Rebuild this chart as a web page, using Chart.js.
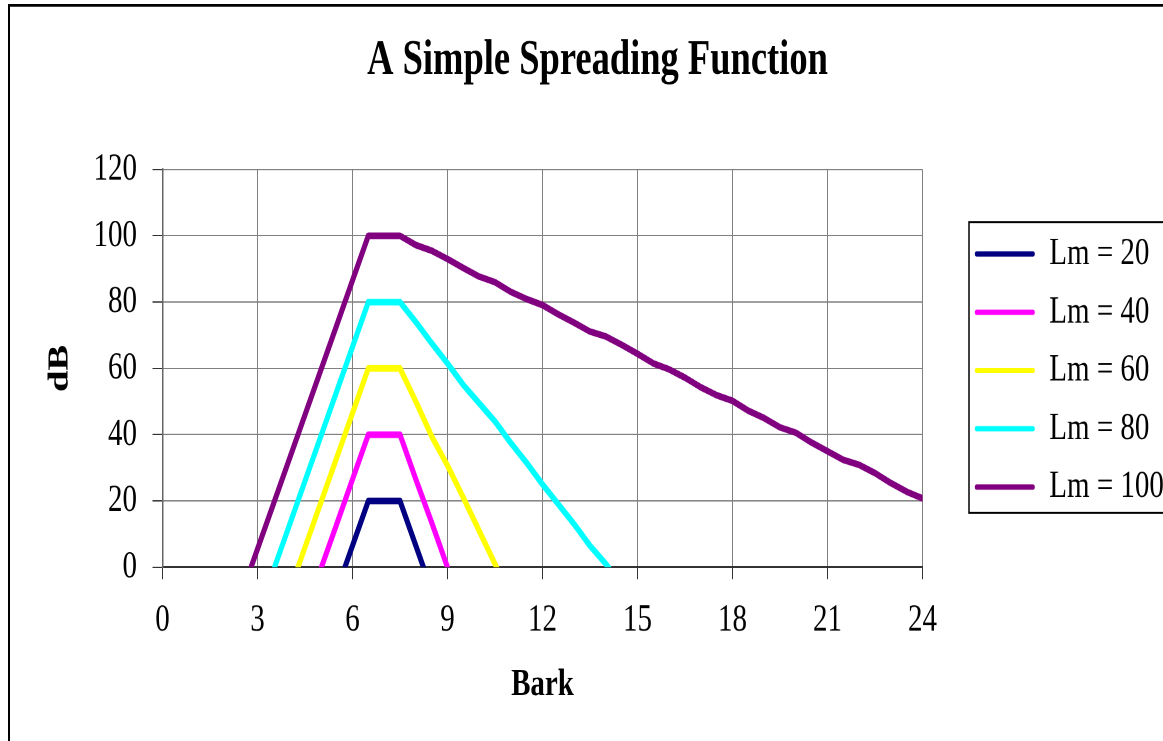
<!DOCTYPE html>
<html>
<head>
<meta charset="utf-8">
<title>A Simple Spreading Function</title>
<script src="https://cdn.jsdelivr.net/npm/chart.js@4.4.1/dist/chart.umd.min.js"></script>
<style>
  html, body { margin: 0; padding: 0; background: #fff; width: 1163px; height: 741px; }
  /* the original picture is stretched vertically, so the chart is too */
  #page { position: relative; width: 1163px; height: 741px; overflow: hidden; }
  #wrap { position: absolute; left: 0; top: 0; width: 1163px; height: 557px; transform: scaleY(1.3303); transform-origin: 0 0; }
</style>
</head>
<body>
<div id="page"><div id="wrap"><canvas id="chart"></canvas></div></div>
<script>
// Curves, sampled every 0.5 bark (values below 0 dB are cut off by the axis)
const bark20 = [5.5, 6, 6.5, 7, 7.5, 8, 8.5];
const db20 = [-7, 6.5, 20, 20, 20, 6.5, -7];

const bark40 = [5, 5.5, 6, 6.5, 7, 7.5, 8, 8.5, 9, 9.5];
const db40 = [-0.5, 13, 26.5, 40, 40, 40, 26.5, 13.5, 0, -13];

const bark60 = [4, 4.5, 5, 5.5, 6, 6.5, 7, 7.5, 8, 8.5, 9, 9.5, 10, 10.5, 11];
const db60 = [-7.5, 6, 19.5, 33, 46.5, 60, 60, 60, 50, 39.5, 30.7, 21, 11, 1, -9];

const bark80 = [3.5, 4, 4.5, 5, 5.5, 6, 6.5, 7, 7.5, 8, 8.5, 9, 9.5, 10, 10.5, 11,
    11.5, 12, 12.5, 13, 13.5, 14, 14.5];
const db80 = [-1, 12.5, 26, 39.5, 53, 66.5, 80, 80, 80, 74, 67.6, 61.5, 55, 49.5, 44, 37.5,
    31.5, 25, 19, 13, 6.5, 1, -5.5];

const bark100 = [2.5, 3, 3.5, 4, 4.5, 5, 5.5, 6, 6.5, 7, 7.5, 8, 8.5, 9, 9.5, 10, 10.5, 11,
    11.5, 12, 12.5, 13, 13.5, 14, 14.5, 15, 15.5, 16, 16.5, 17, 17.5, 18, 18.5, 19, 19.5,
    20, 20.5, 21, 21.5, 22, 22.5, 23, 23.5, 24];
const db100 = [-8, 5.5, 19, 32.5, 46, 59.5, 73, 86.5, 100, 100, 100, 97.2, 95.5, 93, 90.3,
    87.7, 86, 83.1, 80.9, 79.1, 76.3, 73.8, 71.1, 69.6, 67.1, 64.4, 61.5, 59.7, 57.2, 54.3,
    51.9, 50.2, 47.2, 45, 42.2, 40.6, 37.6, 35, 32.4, 30.9, 28.4, 25.4, 22.8, 20.8];

const levels = [20, 40, 60, 80, 100];
const xTicks = [0, 3, 6, 9, 12, 15, 18, 21, 24];
const yTicks = [0, 20, 40, 60, 80, 100, 120];

const colors = ["#000080", "#ff00ff", "#ffff00", "#00ffff", "#800080"];
const curves = [[bark20, db20], [bark40, db40], [bark60, db60], [bark80, db80], [bark100, db100]];

Chart.defaults.font.family = '"Liberation Serif", "Times New Roman", serif';
Chart.defaults.color = "#000";

// legend frame and outer chart border
const frames = {
    id: "frames",
    afterDraw(chart) {
        const { ctx, legend } = chart;
        const boxes = legend.legendHitBoxes;
        ctx.save();
        ctx.strokeStyle = "#000";
        ctx.lineWidth = 1.5;
        const top = boxes[0].top - 9.5;
        const bottom = boxes[boxes.length - 1].top + 34;
        ctx.strokeRect(legend.left + 9, top, chart.width, bottom - top);
        ctx.lineWidth = 2;
        ctx.strokeRect(9, 4, chart.width, chart.height);
        ctx.restore();
    }
};

const datasets = curves.map(([xs, ys], i) => ({
    label: "Lm = " + levels[i],
    data: xs.map((x, j) => ({ x: x, y: ys[j] })),
    borderColor: colors[i],
    backgroundColor: colors[i],
    borderWidth: 5,
    pointRadius: 0,
    tension: 0,
    clip: 0,
    borderJoinStyle: "round",
    borderCapStyle: "round"
}));

new Chart(document.getElementById("chart"), {
    type: "line",
    data: { datasets: datasets },
    plugins: [frames],
    options: {
        responsive: true,
        maintainAspectRatio: false,
        animation: false,
        devicePixelRatio: 2,
        layout: { padding: { left: 32, right: 0, top: 0, bottom: 0 } },
        plugins: {
            title: {
                display: true,
                text: "A Simple Spreading Function",
                color: "#000",
                font: { size: 36.5, weight: "bold" },
                padding: { top: 24, bottom: 59.6 }
            },
            legend: {
                position: "right",
                maxWidth: 203,
                labels: {
                    font: { size: 29 },
                    color: "#000",
                    boxWidth: 60,
                    boxHeight: 4,
                    padding: 14.8,
                    textAlign: "left",
                    useBorderRadius: true,
                    borderRadius: 2,
                    generateLabels(chart) {
                        return Chart.defaults.plugins.legend.labels.generateLabels(chart)
                            .map((item) => ({ ...item, lineWidth: 0, fillStyle: item.strokeStyle, borderRadius: 2 }));
                    }
                }
            },
            tooltip: { enabled: false }
        },
        scales: {
            x: {
                type: "linear",
                min: xTicks[0],
                max: xTicks[xTicks.length - 1],
                afterBuildTicks: (s) => { s.ticks = xTicks.map((v) => ({ value: v })); },
                ticks: { color: "#000", font: { size: 29 }, padding: 13.5 },
                grid: { color: "#808080", tickColor: "#333", tickLength: 9 },
                border: { color: "#333", width: 1.5 },
                title: {
                    display: true, text: "Bark", color: "#000",
                    font: { size: 29, weight: "bold" },
                    padding: { top: 0, bottom: 24.7 }
                },
                afterFit: (s) => { s.height = 130.6; }
            },
            y: {
                min: yTicks[0],
                max: yTicks[yTicks.length - 1],
                afterBuildTicks: (s) => { s.ticks = yTicks.map((v) => ({ value: v })); },
                ticks: { color: "#000", font: { size: 29 }, padding: 15.5 },
                grid: { color: "#808080", tickColor: "#333", tickLength: 10 },
                border: { color: "#666", width: 1.5 },
                title: {
                    display: true, text: "dB", color: "#000",
                    font: { size: 29, weight: "bold" },
                    padding: { top: 10.6, bottom: 0 }
                },
                afterFit: (s) => { s.width = 130.5; }
            },
            // empty axis that keeps the gap between plot and legend
            gap: {
                type: "linear",
                position: "right",
                grid: { display: false },
                border: { display: false },
                ticks: { display: false },
                afterFit: (s) => { s.width = 37.5; }
            }
        }
    }
});
</script>
</body>
</html>
